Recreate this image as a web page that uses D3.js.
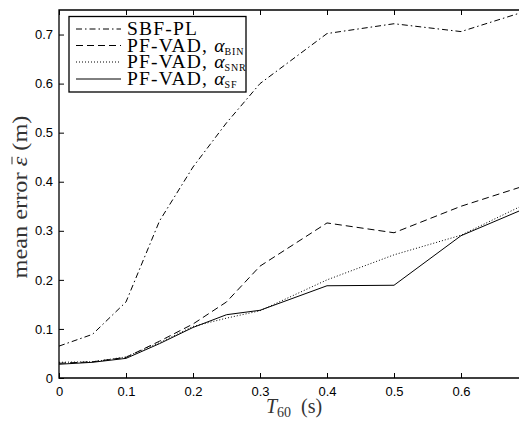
<!DOCTYPE html>
<meta charset="utf-8">
<head>
    <script src="https://d3js.org/d3.v7.min.js"></script>
    <style>
        body { margin: 0; background: white; }
        .tick text { font-family: "Liberation Sans", Arial, sans-serif; font-size: 13px; fill: black; }
        .serif { font-family: "Liberation Serif", "Times New Roman", serif; }
    </style>
</head>
<body>
<div id="chart"></div>
<script>
    // T60 values (s)
    const t60 = [0, 0.05, 0.1, 0.15, 0.2, 0.25, 0.3, 0.4, 0.5, 0.6, 0.7];

    const sbfPl   = [0.065, 0.089, 0.155, 0.32, 0.43, 0.52, 0.60, 0.702, 0.722, 0.706, 0.749];
    const vadBin  = [0.030, 0.033, 0.042, 0.075, 0.110, 0.155, 0.228, 0.316, 0.296, 0.350, 0.394];
    const vadSnr  = [0.032, 0.033, 0.043, 0.072, 0.105, 0.122, 0.137, 0.200, 0.251, 0.291, 0.357];
    const vadSf   = [0.028, 0.032, 0.040, 0.070, 0.103, 0.129, 0.138, 0.188, 0.189, 0.290, 0.348];

    const xTicks = [0, 0.1, 0.2, 0.3, 0.4, 0.5, 0.6];
    const yTicks = [0, 0.1, 0.2, 0.3, 0.4, 0.5, 0.6, 0.7];

    const series = [
        { name: "SBF-PL", sub: null, values: sbfPl, dash: "6,3,1.5,3" },
        { name: "PF-VAD, ", sub: "BIN", values: vadBin, dash: "7,4" },
        { name: "PF-VAD, ", sub: "SNR", values: vadSnr, dash: "1,2" },
        { name: "PF-VAD, ", sub: "SF", values: vadSf, dash: null }
    ];

    const width = 519, height = 423;
    const plotLeft = 59, plotRight = 528, plotTop = 10, plotBottom = 378;

    const svg = d3.select("#chart").append("svg")
        .attr("width", width)
        .attr("height", height)
        .style("background-color", "white");

    const x = d3.scaleLinear().domain([0, 0.7]).range([plotLeft, plotRight]);
    const y = d3.scaleLinear().domain([0, 0.75]).range([plotBottom, plotTop]);

    // axes (ticks point inward)
    svg.append("g")
        .attr("transform", `translate(0, ${plotBottom})`)
        .call(d3.axisBottom(x).tickValues(xTicks).tickSize(-5).tickPadding(9)
            .tickFormat(d => d === 0 ? "0" : d3.format(".1f")(d)));

    svg.append("g")
        .attr("transform", `translate(0, ${plotTop})`)
        .call(d3.axisTop(x).tickValues(xTicks).tickSize(-5).tickFormat(""));

    svg.append("g")
        .attr("transform", `translate(${plotLeft}, 0)`)
        .call(d3.axisLeft(y).tickValues(yTicks).tickSize(-5).tickPadding(6)
            .tickFormat(d => d === 0 ? "0" : d3.format(".1f")(d)));

    svg.selectAll(".domain").remove();
    svg.selectAll(".tick line").attr("stroke", "black").attr("stroke-width", 1);

    // frame
    svg.append("path")
        .attr("d", `M${plotRight},${plotTop}H${plotLeft}V${plotBottom}H${plotRight}`)
        .attr("fill", "none")
        .attr("stroke", "black")
        .attr("stroke-width", 1.3);

    // lines
    const line = d3.line()
        .x((d, i) => x(t60[i]))
        .y(d => y(d));

    series.forEach(s => {
        svg.append("path")
            .datum(s.values)
            .attr("d", line)
            .attr("fill", "none")
            .attr("stroke", "black")
            .attr("stroke-width", 1)
            .attr("stroke-dasharray", s.dash);
    });

    // axis labels
    const xl = svg.append("text")
        .attr("class", "serif")
        .attr("x", 294)
        .attr("y", 413)
        .attr("text-anchor", "middle")
        .style("font-size", "20px")
        .style("fill", "#333");
    xl.append("tspan").style("font-style", "italic").text("T");
    xl.append("tspan").attr("dy", 4).style("font-size", "14px").text("60");
    xl.append("tspan").attr("dy", -4).text("\u2002(s)");

    const ylg = svg.append("g")
        .attr("transform", `translate(27, 197) rotate(-90)`);
    const yl = ylg.append("text")
        .attr("class", "serif")
        .attr("text-anchor", "middle")
        .attr("textLength", 163)
        .attr("lengthAdjust", "spacingAndGlyphs")
        .style("font-size", "20px")
        .style("fill", "#333");
    yl.append("tspan").text("mean error ");
    yl.append("tspan").style("font-style", "italic").text("\u03B5");
    yl.append("tspan").text(" (m)");
    // bar over epsilon
    const eps = yl.node().getExtentOfChar(11);
    ylg.append("line")
        .attr("x1", eps.x + 2)
        .attr("x2", eps.x + eps.width)
        .attr("y1", -15)
        .attr("y2", -15)
        .attr("stroke", "#333")
        .attr("stroke-width", 1);

    // legend
    const legend = svg.append("g").attr("class", "legend");
    legend.append("rect")
        .attr("x", 69)
        .attr("y", 16.5)
        .attr("width", 177)
        .attr("height", 75.5)
        .attr("fill", "white")
        .attr("stroke", "black")
        .attr("stroke-width", 1.3);

    const rowY = [29, 45.5, 62, 79];
    series.forEach((s, i) => {
        legend.append("line")
            .attr("x1", 76)
            .attr("x2", 121)
            .attr("y1", rowY[i])
            .attr("y2", rowY[i])
            .attr("stroke", "black")
            .attr("stroke-width", 1)
            .attr("stroke-dasharray", s.dash);

        const t = legend.append("text")
            .attr("class", "serif")
            .attr("x", 127)
            .attr("y", rowY[i] + 6)
            .style("font-size", "19.5px");
        t.append("tspan").style("letter-spacing", "1.2px").text(s.name);
        if (s.sub) {
            t.append("tspan").style("font-style", "italic").text("\u03B1");
            t.append("tspan")
                .attr("dy", 3)
                .style("font-size", "10px")
                .style("letter-spacing", "0.8px")
                .text(s.sub);
        }
    });
</script>
</body>
